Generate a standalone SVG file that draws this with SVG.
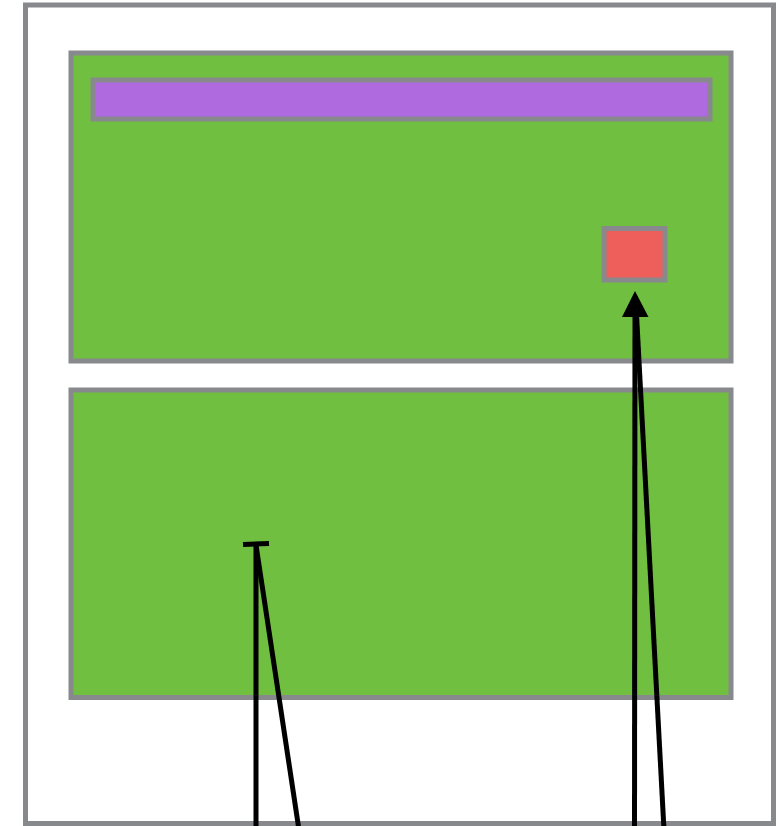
<svg xmlns="http://www.w3.org/2000/svg" width="778" height="826" viewBox="0 0 778 826">
<style>
.box{stroke:#88898d;stroke-width:5}
.conn{stroke:#000;stroke-width:5;fill:none;stroke-linecap:butt}
</style>
<rect width="778" height="826" fill="#fff"/>
<g id="frame"><rect class="box" x="25.5" y="5" width="748" height="818.5" fill="#fff"/></g>
<g id="top-panel"><rect class="box" x="71" y="53" width="660" height="308" fill="#70bf41"/></g>
<g id="title-bar"><rect class="box" x="93" y="80" width="617" height="39" fill="#b06ae0"/></g>
<g id="target"><rect class="box" x="604" y="228.5" width="61" height="51.5" fill="#ee5e5a"/></g>
<g id="bottom-panel"><rect class="box" x="71" y="390" width="660" height="307.5" fill="#70bf41"/></g>
<g id="connectors">
<line class="conn" x1="256" y1="830" x2="256" y2="545"/>
<line class="conn" x1="299" y1="830" x2="256" y2="545"/>
<line class="conn" x1="243" y1="544.5" x2="269" y2="543.5" stroke-width="6.5"/>
<line class="conn" x1="634.5" y1="830" x2="635" y2="305"/>
<line class="conn" x1="664" y1="830" x2="636" y2="305"/>
<path d="M635,291 L648.5,317 L622,317 Z" fill="#000"/>
</g>
</svg>
